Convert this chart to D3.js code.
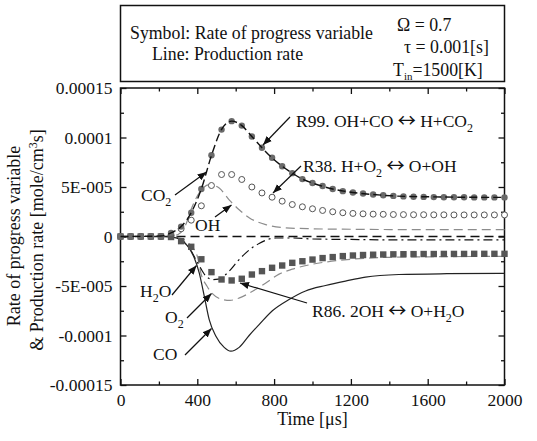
<!DOCTYPE html>
<html><head><meta charset="utf-8">
<script src="https://cdn.jsdelivr.net/npm/d3@7"></script>
<style>
body{margin:0;background:#fff;}
svg, svg text{font-family:'Liberation Serif','Times New Roman',serif;}
svg text{fill:#111;}
</style>
</head><body>
<svg id="chart" width="537" height="441" font-family="'Liberation Serif', serif"></svg>
<script>
// ---------------- DATA ----------------
const xTicks = [0, 400, 800, 1200, 1600, 2000];
const yTicks = [0.00015, 0.0001, 0.00005, 0, -0.00005, -0.0001, -0.00015];
const yTickLabels = ["0.00015", "0.0001", "5E-005", "0", "-5E-005", "-0.0001", "-0.00015"];

// marker series (rate of progress variable), units 1e-6 mole/cm3s
const markerTimes = [0,52.6,105.3,157.9,210.5,263.2,315.8,368.4,421.1,473.7,526.3,578.9,631.6,684.2,736.8,789.5,842.1,894.7,947.4,1000,1052.6,1105.3,1157.9,1210.5,1263.2,1315.8,1368.4,1421.1,1473.7,1526.3,1578.9,1631.6,1684.2,1736.8,1789.5,1842.1,1894.7,1947.4,2000];
const r99 = [0,0,0,0,0,3.7,10,24,48,82,108,116.5,112,101,89.6,79.5,71,64,58,54,51,48,45.8,44.5,43.4,42.4,41.6,41,40.5,40.2,40,39.8,39.7,39.6,39.6,39.5,39.5,39.5,39.5];
const r38 = [0,0,0,0,0,1,7.8,16.5,31,51.5,62.6,62.6,57.6,50,44,39.7,35.7,32.3,30,28,26.3,25,24,23.3,22.9,22.6,22.4,22.2,22.1,22,22,21.9,21.9,21.8,21.8,21.8,21.8,21.8,21.8];
const r86 = [0,0,0,0,0,-0.5,-4.7,-10.4,-23,-36,-43.4,-44.4,-42.7,-38.4,-35,-31.6,-29.3,-26.6,-25,-23.3,-21.8,-20.8,-19.8,-19.2,-18.7,-18.4,-18.2,-18,-17.9,-17.8,-17.7,-17.7,-17.6,-17.6,-17.6,-17.5,-17.5,-17.5,-17.5];

// line series (production rate), units 1e-6 mole/cm3s
const co2T = [0,210,263,316,368,421,474,526,579,632,684,737,789,842,895,947,1000,1105,1210,1316,1421,1632,1842,2000];
const co2V = [0,0.5,3.7,10,24,48,82,108,116.5,112,101,89.6,79.5,71,64,58,54,48,44.5,42.4,41,40,39.6,39.5];
const coT = [0,230,260,306,350,384,410,436,462,497,540,575,618,670,722,791,878,964,1068,1172,1276,1450,1700,2000];
const coV = [0,0,-0.5,-2.4,-9.8,-21.5,-36.7,-60,-84,-100.7,-112,-115.8,-112,-100,-89,-75,-63.6,-55,-49.5,-45,-41,-38.4,-37.6,-37.3];
const ohT = [0,250,300,340,367,410,462,514,566,618,670,757,861,1000,1200,1500,2000];
const ohV = [0,0,2,12,27,44,52.5,49,37,27,19,12,8.8,7.8,7.3,7,7];
const o2T = [0,250,300,350,400,420,450,480,520,570,620,690,757,826,895,1000,1100,1200,1400,1600,2000];
const o2V = [0,0,-1,-6,-20,-38,-50,-58,-63,-64.5,-62,-55,-47,-38,-33,-28,-25,-23,-21,-20.5,-20];
const h2oT = [0,250,300,350,400,445,480,510,566,610,653,722,809,900,1000,1200,1500,2000];
const h2oV = [0,0,-2,-9,-26,-40,-43.5,-43,-35,-25,-16.5,-7,-1.5,-1.5,-2.5,-3,-3.5,-3.5];
const zeroT = [0, 2000];
const zeroV = [0, 0];

// ---------------- LAYOUT ----------------
const FONT = "'Liberation Serif', 'Times New Roman', serif";
const svg = d3.select("#chart");
const L = 120.5, R = 504.5, T = 88, B = 385;
const x = d3.scaleLinear().domain([0, 2000]).range([L, R]);
const y = d3.scaleLinear().domain([-0.00015, 0.00015]).range([B, T]);
const E = 1e-6;

svg.append("defs").append("marker")
  .attr("id", "arr").attr("viewBox", "0 0 10 10").attr("refX", 10).attr("refY", 5)
  .attr("markerWidth", 9).attr("markerHeight", 9).attr("markerUnits", "userSpaceOnUse")
  .attr("orient", "auto")
  .append("path").attr("d", "M0,1 L10,5 L0,9 Z").attr("fill", "#111");

// legend box
svg.append("rect").attr("x", 120.5).attr("y", 5.5).attr("width", 384).attr("height", 76)
  .attr("fill", "none").attr("stroke", "#111").attr("stroke-width", 1.5);
const lg = svg.append("g").attr("font-family", FONT).style("font-size", "17.8px");
lg.append("text").attr("x", 130).attr("y", 39).text("Symbol: Rate of progress variable");
lg.append("text").attr("x", 152).attr("y", 60).text("Line: Production rate");
lg.append("text").attr("x", 397).attr("y", 31).text("Ω = 0.7");
lg.append("text").attr("x", 404).attr("y", 53).text("τ = 0.001[s]");
const tin = lg.append("text").attr("x", 393).attr("y", 76);
tin.append("tspan").text("T");
tin.append("tspan").attr("dy", 4).style("font-size", "11px").text("in");
tin.append("tspan").attr("dy", -4).text("=1500[K]");

// axes
const axG = svg.append("g");
function axisGroup(axis, tr) {
  const g = axG.append("g").attr("transform", tr).call(axis);
  g.attr("font-family", FONT).attr("font-size", 17.5);
  g.select(".domain").remove();
  g.selectAll("line").attr("stroke", "#111").attr("stroke-width", 1.3);
  g.selectAll("text").attr("font-family", FONT).attr("font-size", 17.5).attr("fill", "#111");
  return g;
}
const xMinor = d3.range(200, 2000, 400);
const yMinor = d3.range(-0.000125, 0.00015, 0.00005);
axisGroup(d3.axisBottom(x).tickValues(xTicks).tickSize(-6).tickPadding(9).tickFormat(d3.format("d")), `translate(0,${B})`);
axisGroup(d3.axisBottom(x).tickValues(xMinor).tickSize(-3.5).tickFormat(""), `translate(0,${B})`);
axisGroup(d3.axisTop(x).tickValues(xTicks).tickSize(-6).tickFormat(""), `translate(0,${T})`);
axisGroup(d3.axisTop(x).tickValues(xMinor).tickSize(-3.5).tickFormat(""), `translate(0,${T})`);
axisGroup(d3.axisLeft(y).tickValues(yTicks).tickSize(-6).tickPadding(8).tickFormat((d, i) => yTickLabels[i]), `translate(${L},0)`);
axisGroup(d3.axisLeft(y).tickValues(yMinor).tickSize(-3.5).tickFormat(""), `translate(${L},0)`);
axisGroup(d3.axisRight(y).tickValues(yTicks).tickSize(-6).tickFormat(""), `translate(${R},0)`);
axisGroup(d3.axisRight(y).tickValues(yMinor).tickSize(-3.5).tickFormat(""), `translate(${R},0)`);
svg.append("rect").attr("x", L).attr("y", T).attr("width", R - L).attr("height", B - T)
  .attr("fill", "none").attr("stroke", "#111").attr("stroke-width", 1.5);

// axis titles
svg.append("text").attr("x", (L + R) / 2).attr("y", 425).attr("text-anchor", "middle")
  .attr("font-family", FONT).attr("font-size", 18).text("Time [μs]");
const yt = svg.append("g").attr("transform", "translate(0,236) rotate(-90)")
  .attr("font-family", FONT).attr("font-size", 18);
yt.append("text").attr("x", 0).attr("y", 20).attr("text-anchor", "middle").text("Rate of progress variable");
const yt2 = yt.append("text").attr("x", -4).attr("y", 43).attr("text-anchor", "middle");
yt2.append("tspan").text("& Production rate [mole/cm");
yt2.append("tspan").attr("dy", -6).attr("font-size", 12).text("3");
yt2.append("tspan").attr("dy", 6).text("s]");

// ---------------- MARKS ----------------
const plot = svg.append("g");
const line = d3.line().curve(d3.curveMonotoneX).x(d => x(d[0])).y(d => y(d[1] * E));
const zip = (a, b) => a.map((t, i) => [t, b[i]]);

function drawLine(T_, V_, color, width, dash) {
  plot.append("path").datum(zip(T_, V_)).attr("d", line)
    .attr("fill", "none").attr("stroke", color).attr("stroke-width", width)
    .attr("stroke-dasharray", dash);
}
drawLine(zeroT, zeroV, "#111", 1.6, "9,5");
drawLine(ohT, ohV, "#8c8c8c", 1.2, "9,5");
drawLine(o2T, o2V, "#8c8c8c", 1.2, "9,5");
drawLine(h2oT, h2oV, "#111", 1.2, "9,4,2,4");
drawLine(coT, coV, "#222", 1.2, null);

plot.append("g").selectAll("circle").data(zip(markerTimes, r38)).join("circle")
  .attr("cx", d => x(d[0])).attr("cy", d => y(d[1] * E)).attr("r", 3)
  .attr("fill", "#fff").attr("stroke", "#555").attr("stroke-width", 1);
plot.append("g").selectAll("rect").data(zip(markerTimes, r86)).join("rect")
  .attr("x", d => x(d[0]) - 3.2).attr("y", d => y(d[1] * E) - 3.2).attr("width", 6.4).attr("height", 6.4)
  .attr("fill", "#555");
plot.append("g").selectAll("circle").data(zip(markerTimes, r99)).join("circle")
  .attr("cx", d => x(d[0])).attr("cy", d => y(d[1] * E)).attr("r", 3.2)
  .attr("fill", "#6a6a6a");
drawLine(co2T, co2V, "#111", 1.4, "8,4");

// ---------------- ANNOTATIONS ----------------
const ann = svg.append("g").attr("font-family", FONT).attr("font-size", 17.5);
function arrow(x1, y1, x2, y2) {
  ann.append("line").attr("x1", x1).attr("y1", y1).attr("x2", x2).attr("y2", y2)
    .attr("stroke", "#111").attr("stroke-width", 1.2).attr("marker-end", "url(#arr)");
}
// parts: [text, kind] kind: 0 normal, 1 subscript, 2 double arrow symbol
function label(xp, yp, parts) {
  const t = ann.append("text").attr("x", xp).attr("y", yp);
  let shift = 0;
  parts.forEach(p => {
    const s = t.append("tspan").text(p[0]);
    const target = p[1] === 1 ? 5 : 0;
    if (target !== shift) { s.attr("dy", target - shift); shift = target; }
    if (p[1] === 1) s.attr("font-size", 12);
    if (p[1] === 2) s.attr("font-family", "'Noto Sans CJK JP', 'Noto Sans CJK SC', sans-serif").attr("font-size", 18);
  });
}
label(296, 127, [["R99. OH+CO "], ["↔", 2], [" H+CO"], ["2", 1]]);
arrow(290, 117, 263, 145);
label(303, 172, [["R38. H+O"], ["2", 1], [" "], ["↔", 2], [" O+OH"]]);
arrow(301, 166, 273, 193);
label(141, 201, [["CO"], ["2", 1]]);
arrow(175, 195, 206.5, 172);
label(195, 231, [["OH"]]);
arrow(215, 217, 231.5, 205);
label(140, 297, [["H"], ["2", 1], ["O"]]);
arrow(172, 295, 196.5, 265.5);
label(165, 323, [["O"], ["2", 1]]);
arrow(187, 318, 211.5, 293.5);
label(153, 360, [["CO"]]);
arrow(185, 355, 211.5, 328.5);
label(312, 317, [["R86. 2OH "], ["↔", 2], [" O+H"], ["2", 1], ["O"]]);
arrow(307, 303, 240, 283);
</script>
</body></html>
